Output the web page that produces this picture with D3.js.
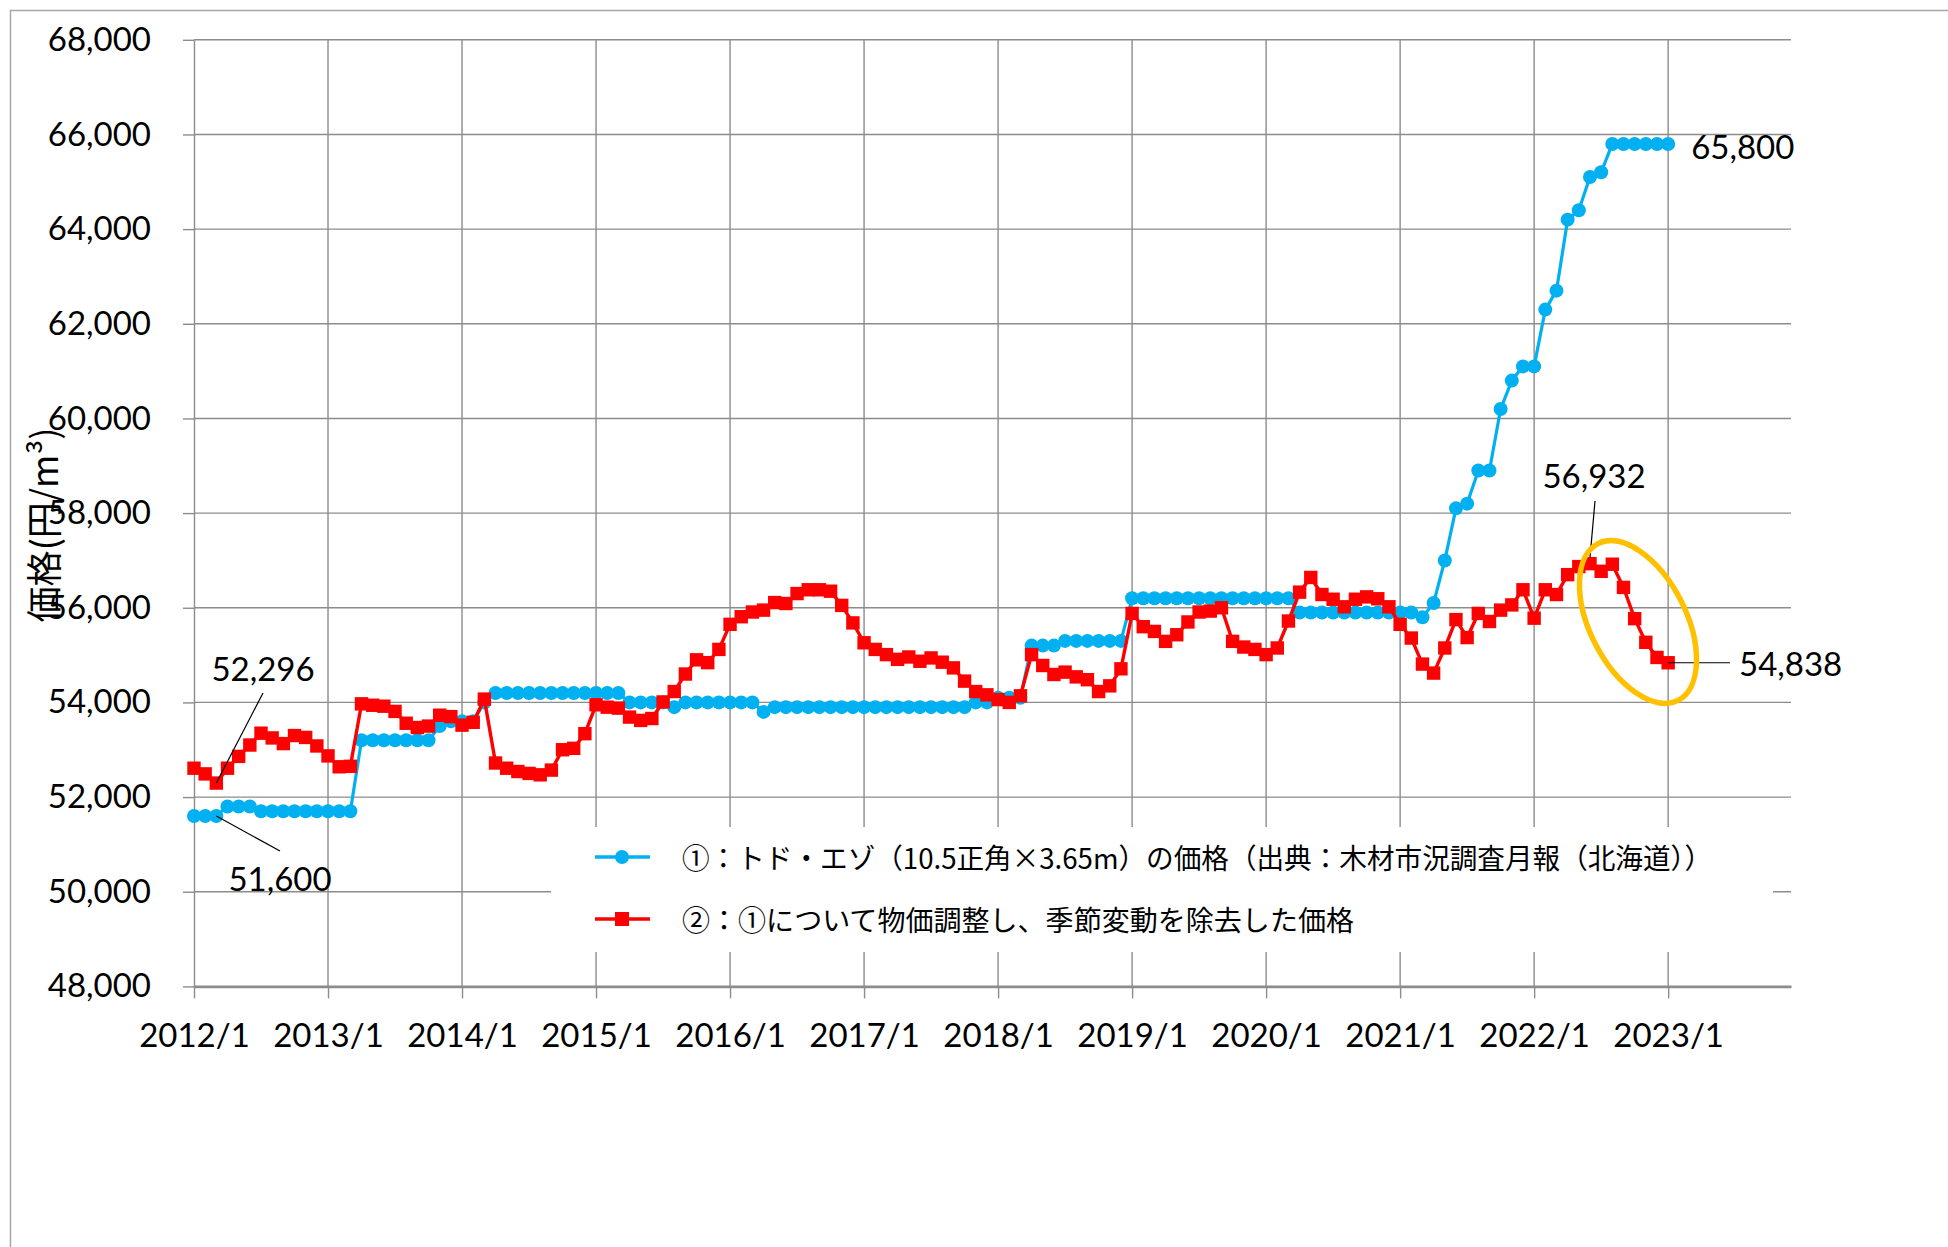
<!DOCTYPE html>
<html>
<head>
<meta charset="utf-8">
<script src="https://cdn.jsdelivr.net/npm/d3@7"></script>
<style>
  html, body { margin: 0; padding: 0; background: #fff; }
  svg { display: block; }
  .axis text { font-family: Lato, "Liberation Sans", sans-serif; font-size: 33px; fill: #000; }
  .lbl { font-family: Lato, "Liberation Sans", sans-serif; font-size: 33px; fill: #000; }
  .jp { font-family: "Noto Sans CJK JP", sans-serif; fill: #000; }
</style>
</head>
<body>
<svg id="chart" width="1948" height="1247"></svg>
<script>
'use strict';

// month index 0 = 2012/1 ... 132 = 2023/1
var yearLabels = ['2012/1', '2013/1', '2014/1', '2015/1', '2016/1', '2017/1',
                  '2018/1', '2019/1', '2020/1', '2021/1', '2022/1', '2023/1'];
var yTicks = [48000, 50000, 52000, 54000, 56000, 58000, 60000, 62000, 64000, 66000, 68000];

// ①トド・エゾ price
var todoEzo = [
  51600, 51600, 51600, 51800, 51800, 51800, 51700, 51700, 51700, 51700, 51700, 51700,
  51700, 51700, 51700, 53200, 53200, 53200, 53200, 53200, 53200, 53200, 53500, 53600,
  53600, 53600, 54000, 54200, 54200, 54200, 54200, 54200, 54200, 54200, 54200, 54200,
  54200, 54200, 54200, 54000, 54000, 54000, 54000, 53900, 54000, 54000, 54000, 54000,
  54000, 54000, 54000, 53800, 53900, 53900, 53900, 53900, 53900, 53900, 53900, 53900,
  53900, 53900, 53900, 53900, 53900, 53900, 53900, 53900, 53900, 53900, 54000, 54000,
  54100, 54100, 54100, 55200, 55200, 55200, 55300, 55300, 55300, 55300, 55300, 55300,
  56200, 56200, 56200, 56200, 56200, 56200, 56200, 56200, 56200, 56200, 56200, 56200,
  56200, 56200, 56200, 55900, 55900, 55900, 55900, 55900, 55900, 55900, 55900, 55900,
  55900, 55900, 55800, 56100, 57000, 58100, 58200, 58900, 58900, 60200, 60800, 61100,
  61100, 62300, 62700, 64200, 64400, 65100, 65200, 65800, 65800, 65800, 65800, 65800,
  65800
];

// ② price-adjusted, seasonally adjusted
var adjusted = [
  52610, 52490, 52296, 52610, 52860, 53100, 53350, 53250, 53130, 53300, 53260, 53080,
  52870, 52640, 52650, 53970, 53940, 53920, 53810, 53560, 53470, 53500, 53730, 53700,
  53520, 53580, 54070, 52720, 52610, 52540, 52500, 52470, 52570, 53000, 53030, 53340,
  53950, 53900, 53880, 53690, 53620, 53660, 54010, 54230, 54600, 54900, 54840, 55120,
  55650, 55810, 55910, 55950, 56110, 56090, 56300, 56380, 56380, 56350, 56050, 55680,
  55260, 55120, 55010, 54910, 54960, 54870, 54940, 54850, 54730, 54450, 54230, 54160,
  54060, 54000, 54140, 55010, 54780, 54590, 54640, 54540, 54480, 54230, 54350, 54710,
  55880, 55600, 55500, 55290, 55430, 55700, 55910, 55930, 56000, 55290, 55170, 55120,
  55010, 55150, 55720, 56330, 56640, 56280, 56180, 56020, 56180, 56230, 56190, 56020,
  55650, 55360, 54810, 54620, 55150, 55750, 55370, 55880, 55710, 55950, 56060, 56380,
  55780, 56380, 56280, 56700, 56870, 56932, 56770, 56920, 56430, 55770, 55270, 54950,
  54838
];

var legendLabels = [
  '①：トド・エゾ（10.5正角×3.65m）の価格（出典：木材市況調査月報（北海道））',
  '②：①について物価調整し、季節変動を除去した価格'
];

var blue = '#00B0F0', red = '#FF0000', grid = '#8c8c8c';

var svg = d3.select('#chart');
var x = d3.scaleLinear().domain([0, 143]).range([194, 1791]);
var y = d3.scaleLinear().domain([48000, 68000]).range([986.4, 39.8]);

// chart frame
svg.append('rect')
  .attr('x', 10.5).attr('y', 10.5)
  .attr('width', 2000).attr('height', 2000)
  .style('fill', '#fff').style('stroke', '#a6a6a6').style('stroke-width', 1.5);

// gridlines
svg.append('g').selectAll('line')
  .data(yTicks.slice(1))
  .enter().append('line')
  .attr('x1', x(0)).attr('x2', x(143))
  .attr('y1', function(d) { return y(d); })
  .attr('y2', function(d) { return y(d); })
  .style('stroke', grid).style('stroke-width', 1.4);

var yearIdx = yearLabels.map(function(d, i) { return i * 12; });
svg.append('g').selectAll('line')
  .data(yearIdx.slice(1))
  .enter().append('line')
  .attr('x1', function(d) { return x(d); })
  .attr('x2', function(d) { return x(d); })
  .attr('y1', y(68000)).attr('y2', y(48000))
  .style('stroke', grid).style('stroke-width', 1.4);

// axes
var yAxis = svg.append('g').attr('class', 'axis')
  .attr('transform', 'translate(' + x(0) + ',0)')
  .call(d3.axisLeft(y).tickValues(yTicks).tickSize(11).tickSizeOuter(0)
    .tickPadding(32).tickFormat(d3.format(',')));
yAxis.selectAll('line, path').style('stroke', grid).style('stroke-width', 1.4);

var xAxis = svg.append('g').attr('class', 'axis')
  .attr('transform', 'translate(0,' + y(48000) + ')')
  .call(d3.axisBottom(x).tickValues(yearIdx).tickSize(12).tickSizeOuter(0)
    .tickPadding(25).tickFormat(function(d) { return yearLabels[d / 12]; }));
xAxis.selectAll('line').style('stroke', grid).style('stroke-width', 1.4);
xAxis.select('path').style('stroke', grid).style('stroke-width', 2.6);

// legend box hides gridlines underneath
var lg = svg.append('g');
lg.append('rect')
  .attr('x', 551).attr('y', 827).attr('width', 1222).attr('height', 125)
  .style('fill', '#fff');

var line = d3.line()
  .x(function(d, i) { return x(i); })
  .y(function(d) { return y(d); });

// series 1
svg.append('path').datum(todoEzo)
  .attr('d', line)
  .style('fill', 'none').style('stroke', blue).style('stroke-width', 3.2);
svg.append('g').selectAll('circle')
  .data(todoEzo)
  .enter().append('circle')
  .attr('cx', function(d, i) { return x(i); })
  .attr('cy', function(d) { return y(d); })
  .attr('r', 7)
  .style('fill', blue);

// series 2
svg.append('path').datum(adjusted)
  .attr('d', line)
  .style('fill', 'none').style('stroke', red).style('stroke-width', 3.4);
svg.append('g').selectAll('rect')
  .data(adjusted)
  .enter().append('rect')
  .attr('x', function(d, i) { return x(i) - 6.7; })
  .attr('y', function(d) { return y(d) - 6.7; })
  .attr('width', 13.4).attr('height', 13.4)
  .style('fill', red);

// legend entries
var lgColors = [blue, red];
lgColors.forEach(function(c, i) {
  var ly = 857 + i * 62;
  lg.append('line')
    .attr('x1', 595).attr('x2', 650).attr('y1', ly).attr('y2', ly)
    .style('stroke', c).style('stroke-width', 3.5);
  if (i === 0) {
    lg.append('circle').attr('cx', 622).attr('cy', ly).attr('r', 7).style('fill', c);
  } else {
    lg.append('rect').attr('x', 615).attr('y', ly - 7)
      .attr('width', 14).attr('height', 14).style('fill', c);
  }
  lg.append('text').attr('class', 'jp')
    .attr('x', 682).attr('y', ly)
    .attr('dominant-baseline', 'central')
    .attr('textLength', i === 0 ? 1030 : 672)
    .attr('lengthAdjust', 'spacingAndGlyphs')
    .style('font-size', '28px')
    .text(legendLabels[i]);
});

// y axis title
svg.append('text').attr('class', 'jp')
  .attr('transform', 'translate(42,525) rotate(-90)')
  .attr('text-anchor', 'middle')
  .attr('dominant-baseline', 'central')
  .attr('textLength', 195)
  .attr('lengthAdjust', 'spacingAndGlyphs')
  .style('font-size', '36px')
  .text('価格(円/m³)');

// data labels
function leader(x1, y1, x2, y2) {
  svg.append('line')
    .attr('x1', x1).attr('y1', y1).attr('x2', x2).attr('y2', y2)
    .style('stroke', '#000').style('stroke-width', 1.2);
}
function label(tx, ty, anchor, v) {
  svg.append('text').attr('class', 'lbl')
    .attr('x', tx).attr('y', ty)
    .attr('text-anchor', anchor)
    .attr('dominant-baseline', 'central')
    .text(d3.format(',')(v));
}

var last = todoEzo.length - 1;

leader(263, 693, x(2), y(adjusted[2]));
label(263, 668, 'middle', adjusted[2]);

leader(x(2), y(todoEzo[2]), 280, 851);
label(280, 878, 'middle', todoEzo[2]);

label(x(last) + 23, y(todoEzo[last]) + 2, 'start', todoEzo[last]);

leader(1595, 501, x(125), y(adjusted[125]) - 6);
label(1594, 475, 'middle', adjusted[125]);

leader(x(last), y(adjusted[last]), 1730, y(adjusted[last]));
label(1739, y(adjusted[last]), 'start', adjusted[last]);

// highlight of the recent drop
svg.append('ellipse')
  .attr('transform', 'translate(1638,622) rotate(-27)')
  .attr('rx', 48).attr('ry', 88)
  .style('fill', 'none').style('stroke', '#FFC000').style('stroke-width', 5.5);
</script>
</body>
</html>
